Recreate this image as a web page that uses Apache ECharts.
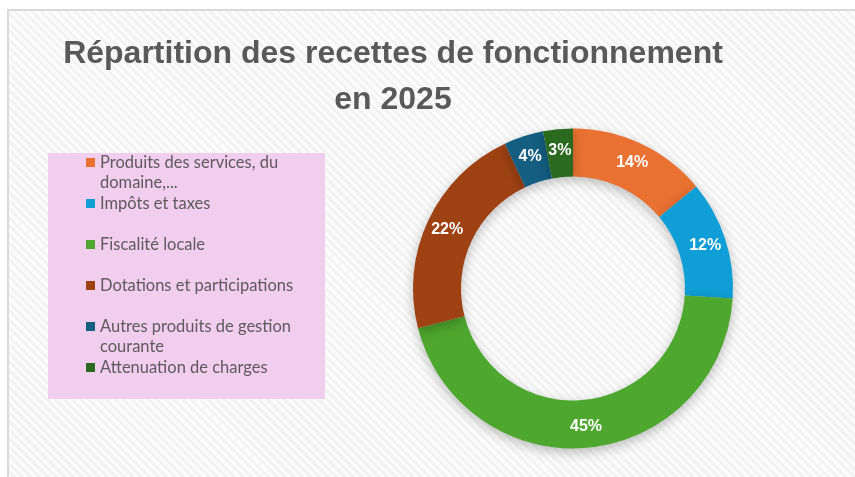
<!DOCTYPE html>
<html>
<head>
<meta charset="utf-8">
<script src="https://cdn.jsdelivr.net/npm/echarts@6/dist/echarts.min.js"></script>
<style>
  html, body { margin: 0; padding: 0; background: #fff; overflow: hidden; }
  #panel {
    position: absolute; left: 7px; top: 9px; width: 860px; height: 480px;
    border: 2px solid #dadada;
    background: repeating-linear-gradient(45deg, #f3f3f3 0px, #f3f3f3 3px, #fcfcfc 3px, #fcfcfc 6px);
  }
  #chart { position: absolute; left: 0; top: 0; width: 855px; height: 477px; }
</style>
</head>
<body>
<div id="panel"></div>
<div id="chart"></div>
<script>
// données (en %)
const categories = [
    'Produits des services, du\ndomaine,...',
    'Impôts et taxes',
    'Fiscalité locale',
    'Dotations et participations',
    'Autres produits de gestion\ncourante',
    'Attenuation de charges'
];
const shares = [14, 12, 45, 22, 4, 3];
const colors = ['#E97132', '#0F9ED5', '#4EA72E', '#9E4214', '#135E81', '#2A6A1F'];
const titleLines = ['Répartition des recettes de fonctionnement', 'en 2025'];

function pieData(names, values) {
    let data = [];
    for (let i = 0; i < names.length; i++) {
        data.push({value: values[i], name: names[i], itemStyle: {color: colors[i]}});
    }
    return data;
}

// chaque entrée fait 3 lignes : le carré reste aligné sur la première ligne du texte
function legendText(name) {
    if (name.indexOf('\n') >= 0) return '\n' + name;
    return '\n' + name + '\n';
}

echarts.init(document.getElementById('chart')).setOption({
    backgroundColor: 'transparent',
    animation: false,
    graphic: [{
        type: 'rect',
        shape: {x: 48, y: 153, width: 277, height: 246},
        style: {fill: '#F1CDEE'},
        z: 0
    }, {
        type: 'text',
        x: 393,
        y: 31,
        style: {
            text: titleLines.join('\n'),
            fontFamily: 'Liberation Sans',
            fontWeight: 'bold',
            fontSize: 32,
            lineHeight: 46,
            fill: '#595959',
            align: 'center',
            verticalAlign: 'top'
        }
    }],
    legend: {
        orient: 'vertical',
        left: 86,
        top: 132.5,
        padding: 0,
        itemGap: -19,
        itemWidth: 9,
        itemHeight: 9,
        icon: 'rect',
        selectedMode: false,
        formatter: legendText,
        textStyle: {
            fontFamily: 'Lato',
            fontSize: 16.5,
            lineHeight: 20,
            color: '#5E5A5E'
        },
        data: categories
    },
    series: [{
        type: 'pie',
        center: [573, 288.5],
        radius: [112, 160],
        startAngle: 90,
        clockwise: true,
        avoidLabelOverlap: false,
        itemStyle: {
            borderWidth: 0,
            shadowBlur: 12,
            shadowOffsetY: 4,
            shadowColor: 'rgba(0,0,0,0.25)'
        },
        label: {
            show: true,
            position: 'inside',
            formatter: p => p.value + '%',
            color: '#fff',
            fontFamily: 'Liberation Sans',
            fontWeight: 'bold',
            fontSize: 16
        },
        labelLine: {show: false},
        emphasis: {disabled: true},
        data: pieData(categories, shares)
    }]
});
</script>
</body>
</html>
